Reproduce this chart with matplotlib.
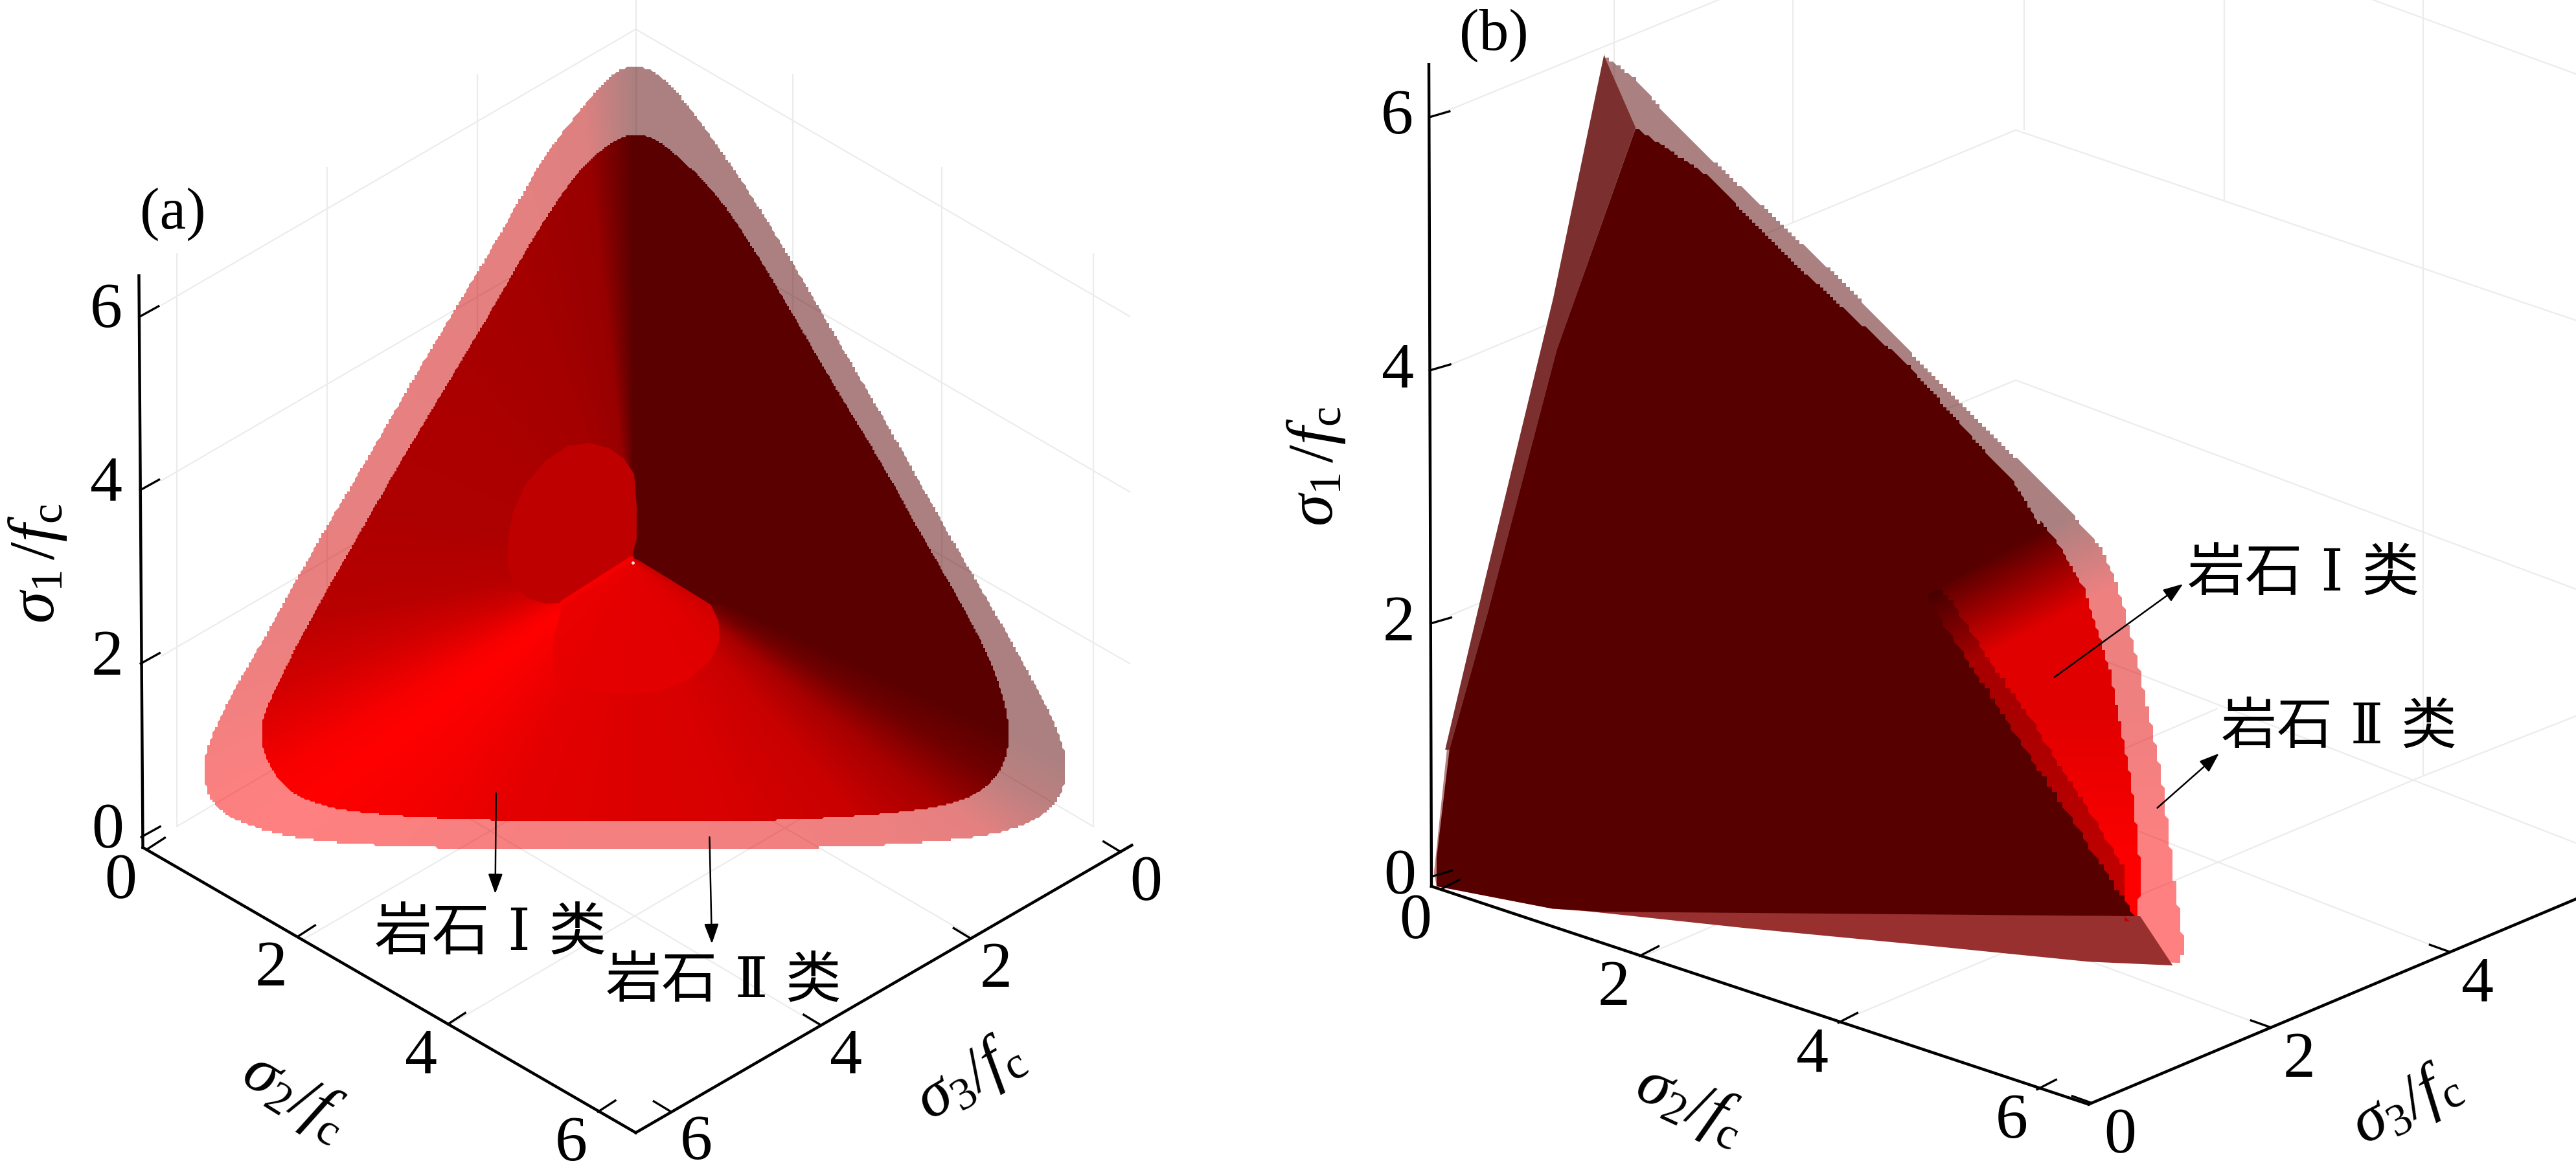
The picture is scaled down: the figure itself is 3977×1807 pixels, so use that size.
import numpy as np
import matplotlib
matplotlib.use("Agg")
import matplotlib.pyplot as plt
from matplotlib.patches import Polygon

plt.rcParams.update({
    'font.family': ['Liberation Serif', 'Noto Sans CJK SC'],
    'mathtext.fontset': 'custom',
    'mathtext.rm': 'Liberation Serif',
    'mathtext.it': 'Liberation Serif:italic',
    'mathtext.bf': 'Liberation Serif:bold',
})

W, H = 3977, 1808
SA = 1900 / 1568
SB = 2077 / 1568
SY = 1808 / 1568
OXB = 1900

# ---------- data ----------
ticks_all = [0, 2, 4, 6]
ticks_b3 = [0, 2, 4]
label_1 = r'$\sigma_{1}\,/f_{\mathrm{c}}$'
label_2 = r'$\sigma_{2}/f_{\mathrm{c}}$'
label_3 = r'$\sigma_{3}/f_{\mathrm{c}}$'
rock_1 = '岩石 Ⅰ 类'
rock_2 = '岩石 Ⅱ 类'

a_outer = [(795,90),(825,90),(860,120),(900,175),(950,250),(1000,335),(1050,425),(1100,515),(1150,605),
           (1200,700),(1250,790),(1300,880),(1340,960),(1358,1010),(1358,1050),(1340,1085),(1300,1110),
           (1230,1125),(1100,1135),(950,1138),(810,1140),(650,1138),(500,1135),(380,1125),(310,1105),
           (270,1080),(258,1040),(262,1005),(290,940),(340,850),(400,735),(460,630),(520,520),(580,415),
           (640,310),(690,215),(730,160),(770,110)]
a_inner = [(805,180),(835,185),(880,225),(920,270),(970,350),(1020,440),(1070,530),(1120,615),(1170,710),
           (1220,800),(1265,890),(1285,960),(1285,1010),(1265,1050),(1225,1075),(1150,1090),(1000,1100),
           (810,1102),(620,1100),(470,1092),(400,1078),(360,1055),(335,1010),(332,970),(350,925),(390,840),
           (450,730),(510,620),(570,515),(630,410),(690,300),(740,225),(780,190)]
a_apex = (807, 752)
# angle around the apex (degrees) against red level of the facets
a_shade_angle = [0, 90, 96, 110, 140, 170, 190, 200, 212, 218, 230, 245, 270, 290, 310, 320, 328, 334, 360]
a_shade_red = [0x5a, 0x5a, 0x98, 0xa4, 0xac, 0xae, 0xb8, 0xd0, 0xf8, 0xff, 0xf4, 0xe4, 0xdc, 0xd8, 0xc8, 0xa8, 0x70, 0x5a, 0x5a]
# red level of the translucent outer body against that of the inner one
outer_in = [0x5a, 0xa0, 0xff]
outer_out = [0x5a, 0xc8, 0xff]

patch_left = [(570,995),(500,1000),(430,975),(375,910),(350,830),(350,700),(370,580),(420,450),(500,340),
              (590,270),(680,255),(760,280),(820,330),(860,400),(870,550),(870,700),(850,785)]
patch_bottom = [(570,995),(850,785),(880,800),(1170,1005),(1200,1080),(1205,1170),(1170,1260),(1080,1350),
                (960,1405),(820,1420),(650,1400),(540,1370),(530,1200)]
patch_dark = [(880,800),(1170,1005),(1230,1000),(1340,940),(1300,800),(1000,700)]

b_outer_jag = [(435,75),(470,105),(520,170),(580,235),(650,310),(720,385),(790,470),(850,540),(925,625),(985,695),
               (1015,735),(1035,790),(1060,900),(1085,1040),(1100,1180),(1112,1275),(1103,1292)]
b_outer_straight = [(1000,1285),(800,1262),(600,1240),(420,1222),(375,1218),(240,1188),(237,1170),(252,1005),
                    (300,780),(380,400)]
b_dark_jag = [(472,172),(555,235),(640,335),(720,420),(790,490),(855,575),(915,650),(945,710)]
b_dark_edge = [(810,800),(1055,1230)]
b_dark_straight = [(430,1222),(375,1218),(240,1188),(240,1150),(255,1005),(300,820),(380,470)]
b_strip_left = [(435,75),(472,172),(380,470),(300,820),(255,1005),(250,1005),(296,780),(376,400)]
b_strip_bottom = [(1060,1228),(430,1220),(372,1216),(600,1244),(800,1266),(1000,1289),(1098,1294)]
b_red = [(945,700),(965,730),(995,790),(1025,900),(1050,1050),(1062,1180),(1055,1235),(1030,1235),(790,800)]
b_edge = [(800,800),(1045,1235),(1040,1160),(985,1060),(930,960),(870,860),(830,790)]

# ---------- figure ----------
fig = plt.figure(figsize=(W / 100, H / 100), dpi=100, facecolor='white')
ax = fig.add_axes([0, 0, 1, 1])
ax.set_axis_off()


def A(p):
    return (p[0] * SA, p[1] * SY)


def B(p):
    return (OXB + p[0] * SB, p[1] * SY)


def C(p):
    return (650 + p[0] * 600 / 1568, 600 + p[1] / 3)


def smooth(pts, n=2):
    pts = np.asarray(pts, float)
    for _ in range(n):
        nxt = np.roll(pts, -1, axis=0)
        pts = np.column_stack([0.75 * pts + 0.25 * nxt, 0.25 * pts + 0.75 * nxt]).reshape(-1, 2)
    return pts


def jag(pts, step, closed=True):
    """Resample an outline and snap it to a fine raster, as the source's mesh edge."""
    pts = np.asarray(pts, float)
    path = np.vstack([pts, pts[:1]]) if closed else pts
    seg = np.hypot(*np.diff(path, axis=0).T)
    s = np.concatenate([[0], np.cumsum(seg)])
    u = np.arange(0, s[-1] + step * 0.7, step * 0.7)
    x = np.interp(u, s, path[:, 0])
    y = np.interp(u, s, path[:, 1])
    return np.column_stack([np.round(x / step) * step, np.round(y / step) * step])


def red_image(red, ext, clip_pts, alpha=1.0, zorder=2):
    rgb = np.zeros(red.shape + (3,))
    rgb[..., 0] = red / 255
    im = ax.imshow(rgb, extent=ext, origin='upper', interpolation='bilinear', alpha=alpha, zorder=zorder, aspect='auto')
    im.set_clip_path(Polygon(clip_pts, closed=True, transform=ax.transData))
    return im


GRID = '#ececec'


def grid(conv, segs):
    for s, e in segs:
        p, q = conv(s), conv(e)
        ax.plot([p[0], q[0]], [p[1], q[1]], color=GRID, lw=1.6, zorder=1, solid_capstyle='butt')


def draw_axis(conv, t0, t6, vec, off, values):
    for v in values:
        f = v / 6
        x = t0[0] + f * (t6[0] - t0[0])
        y = t0[1] + f * (t6[1] - t0[1])
        p, q = conv((x, y)), conv((x + vec[0], y + vec[1]))
        ax.plot([p[0], q[0]], [p[1], q[1]], color='black', lw=2.4, zorder=6)
        l = conv((x + off[0], y + off[1]))
        ax.text(l[0], l[1], str(v), fontsize=72, ha='center', va='center', zorder=7)


def line(conv, s, e, lw=3.2):
    p, q = conv(s), conv(e)
    ax.plot([p[0], q[0]], [p[1], q[1]], color='black', lw=lw, zorder=6, solid_capstyle='projecting')


def arrow(conv, s, e):
    ax.annotate('', xy=conv(e), xytext=conv(s), zorder=8,
                arrowprops=dict(arrowstyle='-|>,head_length=1.1,head_width=0.4', color='black', lw=1.8,
                                shrinkA=0, shrinkB=0, mutation_scale=17))


def txt(conv, p, s, size=72, rot=0, family=None):
    x, y = conv(p)
    ax.text(x, y, s, fontsize=size, rotation=rot, ha='center', va='center', zorder=8,
            rotation_mode='anchor', family=family)


CJK = ['DejaVu Serif', 'Noto Sans CJK SC']

# ---------- panel (a) ----------
grid(A, [((225,340),(225,1108)), ((417,225),(417,990)), ((608,100),(608,870)), ((810,0),(810,745)),
         ((1010,100),(1010,870)), ((1200,225),(1200,990)), ((1393,340),(1393,1108)),
         ((205,410),(810,40)), ((205,645),(810,275)), ((205,880),(810,510)),
         ((810,40),(1440,425)), ((810,275),(1440,660)), ((810,510),(1440,890)),
         ((225,1108),(810,745)), ((810,745),(1393,1108)),
         ((385,1260),(975,900)), ((575,1372),(1170,1005)), ((1238,1255),(640,890)), ((1045,1375),(450,1005))])

xs = np.linspace(200, 1400, 900)
ys = np.linspace(50, 1170, 800)
X, Y = np.meshgrid(xs, ys)
theta = np.degrees(np.arctan2(-(Y - a_apex[1]), X - a_apex[0])) % 360
red_a = np.interp(theta, a_shade_angle, a_shade_red)
ext_a = (xs[0] * SA, xs[-1] * SA, ys[-1] * SY, ys[0] * SY)
out_a = jag(smooth([A(p) for p in a_outer]), 4)
in_a = jag(smooth([A(p) for p in a_inner]), 3)
red_image(np.interp(red_a, outer_in, outer_out), ext_a, out_a, alpha=0.5, zorder=2)
red_image(red_a, ext_a, in_a, alpha=1.0, zorder=3)

ax.add_patch(Polygon([C(p) for p in patch_dark], closed=True, fc='#5a0000', ec='none', zorder=4))
ax.add_patch(Polygon([C(p) for p in patch_left], closed=True, fc='#be0000', ec='none', zorder=4))
ax.add_patch(Polygon([C(p) for p in patch_bottom], closed=True, fc='#e60000', ec='none', alpha=0.8, zorder=4))
p, q = C((570, 995)), C((850, 790))
ax.plot([p[0], q[0]], [p[1], q[1]], color='#f40000', lw=5, zorder=5, solid_capstyle='round')
p = C((855, 810))
ax.plot([p[0]], [p[1]], 'o', color='#ffd8d8', ms=3.5, zorder=5, mew=0)

line(A, (177, 370), (182, 1136))
line(A, (182, 1136), (810, 1518))
line(A, (1442, 1133), (810, 1518))
draw_axis(A, (180, 1122), (178, 425), (24, -14), (-43, -8), ticks_all)
draw_axis(A, (188, 1138), (762, 1490), (22, -15), (-34, 43), ticks_all)
draw_axis(A, (1428, 1142), (855, 1490), (-22, -14), (32, 42), ticks_all)
txt(A, (48, 755), label_1, rot=90)
txt(A, (375, 1468), label_2, rot=-32)
txt(A, (1235, 1445), label_3, rot=30)
txt(A, (220, 287), '(a)', size=66)
txt(A, (625, 1252), rock_1, size=64, family=CJK)
txt(A, (922, 1315), rock_2, size=62, family=CJK)
arrow(A, (632, 1063), (631, 1198))
arrow(A, (904, 1122), (907, 1265))

# ---------- panel (b) ----------
grid(B, [((447,0),(447,350)), ((655,0),(655,300)), ((925,0),(925,175)), ((1158,0),(1158,270)), ((1390,0),(1390,1040)),
         ((255,490),(915,175)), ((256,825),(915,510)), ((270,1170),(915,840)), ((240,155),(570,0)),
         ((915,175),(1568,430)), ((915,510),(1568,790)), ((915,840),(1568,1130)), ((1330,0),(1568,100)),
         ((1390,1040),(1568,960)), ((478,1283),(1150,950)), ((708,1370),(1390,1040)),
         ((1212,1378),(560,1100)), ((1420,1276),(780,990))])

xs = np.linspace(200, 1150, 700)
ys = np.linspace(50, 1320, 800)
X, Y = np.meshgrid(xs, ys)
ext_b = (OXB + xs[0] * SB, OXB + xs[-1] * SB, ys[-1] * SY, ys[0] * SY)
dist = ((Y - 780) + 0.6 * (X - 830)) / np.hypot(1, 0.6)
t = np.clip(dist / 110, 0, 1)
t2 = np.clip((Y - 950) / 220, 0, 1)
red_b = 0x56 + t * (0xe0 - 0x56) + t2 * (0xff - 0xe0)
out_b = np.vstack([jag([B(p) for p in b_outer_jag], 6, closed=False), [B(p) for p in b_outer_straight]])
dark_b = np.vstack([jag([B(p) for p in b_dark_jag], 5, closed=False),
                    jag([B(p) for p in b_dark_edge], 8, closed=False),
                    [B(p) for p in b_dark_straight]])
red_image(red_b, ext_b, out_b, alpha=0.5, zorder=2)
red_image(red_b, ext_b, jag([B(p) for p in b_red], 5), alpha=1.0, zorder=3)
ax.add_patch(Polygon([B(p) for p in b_strip_left], closed=True, fc='#7b2f2f', ec='none', zorder=3))
ax.add_patch(Polygon([B(p) for p in b_strip_bottom], closed=True, fc='#983030', ec='none', zorder=3))
red_image(red_b * 0.75, ext_b, jag([B(p) for p in b_edge], 8), alpha=1.0, zorder=4)
ax.add_patch(Polygon(dark_b, closed=True, fc='#560000', ec='none', zorder=5))

line(B, (231, 87), (234, 1188))
line(B, (234, 1188), (1000, 1480))
line(B, (1000, 1480), (1568, 1205))
draw_axis(B, (234, 1175), (231, 158), (24, -8), (-37, 0), ticks_all)
draw_axis(B, (245, 1192), (940, 1460), (22, -13), (-30, 43), ticks_all)
draw_axis(B, (1003, 1478), (1628, 1174), (-22, -9), (34, 44), ticks_b3)
txt(B, (100, 625), label_1, rot=90)
txt(B, (535, 1480), label_2, rot=-25)
txt(B, (1370, 1480), label_3, rot=27)
txt(B, (307, 47), '(b)', size=66)
txt(B, (1250, 770), rock_1, size=64, family=CJK)
txt(B, (1292, 975), rock_2, size=62, family=CJK)
arrow(B, (960, 908), (1110, 783))
arrow(B, (1080, 1083), (1152, 1010))

ax.set_xlim(0, W)
ax.set_ylim(H, 0)
fig.savefig('out.png', dpi=100, facecolor='white')
